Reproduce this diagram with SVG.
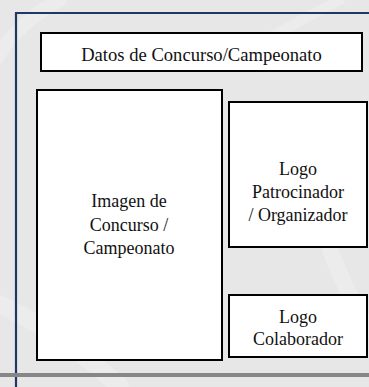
<svg xmlns="http://www.w3.org/2000/svg" width="369" height="387" viewBox="0 0 369 387">
  <style>
    .box { fill: #ffffff; stroke: #000000; stroke-width: 2; }
    .lbl { font-size: 18px; fill: #111111; text-anchor: middle; }
    .wm { fill: none; stroke: #f0f0f0; stroke-linecap: round; opacity: 0.6; }
  </style>
  <rect x="0" y="0" width="369" height="387" fill="#e7e7e7"/>
  <g id="watermark">
    <path class="wm" d="M-10 300 Q 60 330 120 387" stroke-width="18"/>
    <path class="wm" d="M-5 60 Q 20 20 60 0" stroke-width="14"/>
    <path class="wm" d="M230 60 Q 300 20 340 0" stroke-width="10"/>
    <path class="wm" d="M330 250 Q 350 300 369 330" stroke-width="16"/>
  </g>
  <g id="frame">
    <line x1="16" y1="13" x2="16" y2="387" stroke="#1f3864" stroke-width="2.2"/>
    <line x1="15" y1="13" x2="369" y2="13" stroke="#1f3864" stroke-width="2.2"/>
    <rect x="0" y="373" width="369" height="4" fill="#878787"/>
  </g>
  <g id="connectors"></g>
  <g font-family="'Liberation Serif', 'Times New Roman', 'DejaVu Serif', serif">
  <g id="datos">
    <rect class="box" x="41" y="33" width="321" height="38"/>
    <text class="lbl" x="201.5" y="61" style="font-size:18.6px">Datos de Concurso/Campeonato</text>
  </g>
  <g id="imagen">
    <rect class="box" x="37" y="90" width="185" height="270"/>
    <text class="lbl" x="129" y="207">Imagen de</text>
    <text class="lbl" x="129" y="231">Concurso /</text>
    <text class="lbl" x="129" y="254">Campeonato</text>
  </g>
  <g id="patrocinador">
    <rect class="box" x="229" y="102" width="138" height="145"/>
    <text class="lbl" x="298" y="175">Logo</text>
    <text class="lbl" x="298" y="198">Patrocinador</text>
    <text class="lbl" x="298" y="221">/ Organizador</text>
  </g>
  <g id="colaborador">
    <rect class="box" x="229" y="295" width="138" height="62"/>
    <text class="lbl" x="298" y="323">Logo</text>
    <text class="lbl" x="298" y="345">Colaborador</text>
  </g>
  </g>
</svg>
